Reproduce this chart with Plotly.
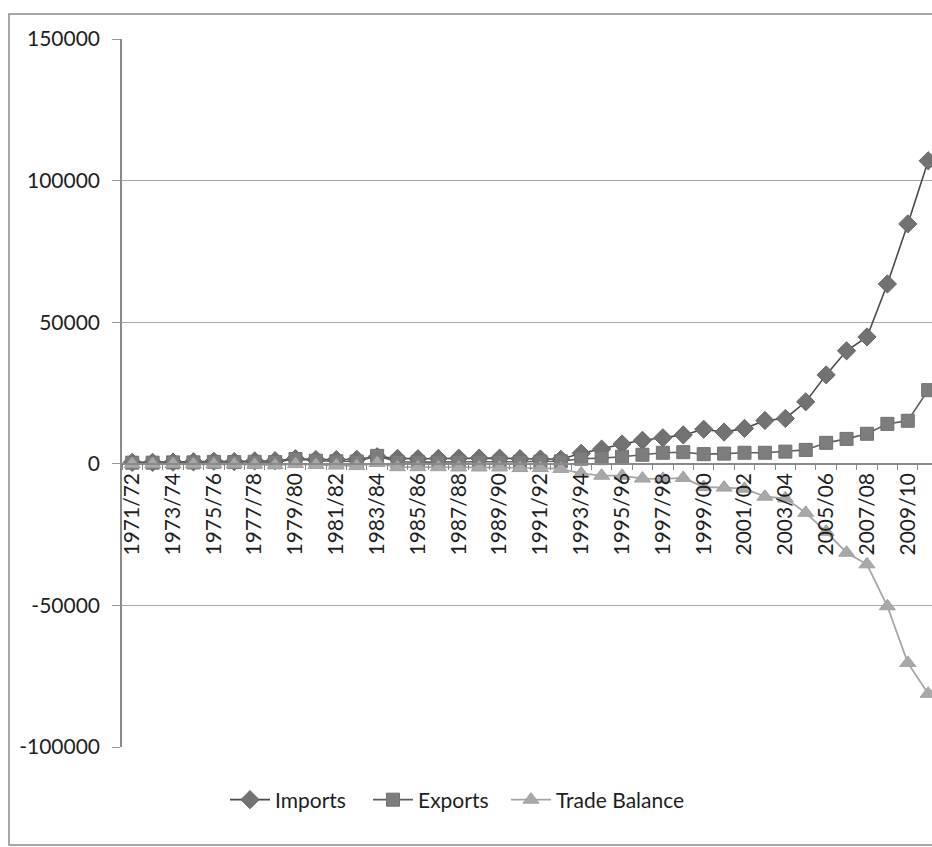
import plotly.graph_objects as go

years = [f"{y}/{str(y + 1)[-2:]}" for y in range(1971, 2011)]

imports = [500, 500, 600, 700, 900, 800, 1000, 1100, 1800, 1500,
           1500, 1600, 2500, 1900, 1800, 1900, 2000, 2000, 2000, 1800,
           1700, 1600, 3700, 5200, 7000, 8300, 9200, 10200, 12200, 11200,
           12500, 15300, 16000, 21900, 31400, 39900, 44800, 63500, 84700, 107000]

exports = [400, 400, 500, 500, 700, 600, 700, 600, 1700, 1100,
           900, 800, 2800, 700, 600, 700, 700, 700, 700, 700,
           800, 900, 1800, 2000, 2500, 3200, 3900, 4100, 3400, 3600,
           3900, 3900, 4300, 4900, 7400, 8800, 10600, 14100, 15200, 26000]

trade_balance = [-100, -100, -100, -200, -200, -200, -300, -500, -100, -400,
                 -600, -800, 300, -1200, -1200, -1200, -1300, -1300, -1300, -1500,
                 -1500, -1800, -3400, -4200, -4200, -5200, -5300, -5000, -8200, -8400,
                 -8800, -11600, -12200, -17300, -24000, -31400, -35500, -50300, -70300, -81200]

tick_text = [y if i % 2 == 0 else "" for i, y in enumerate(years)]
y_ticks = [-100000, -50000, 0, 50000, 100000, 150000]

FONT = "Lato"
W, H = 932, 847
L, T, B = 122, 39, 100
plot_w = W - L
plot_h = H - T - B
slot = 20.41
x_max = -0.5 + plot_w / slot

fig = go.Figure()
fig.add_trace(go.Scatter(
    x=years, y=imports, name="Imports", mode="lines+markers", legend="legend",
    line=dict(color="#4a4a4a", width=1.6),
    marker=dict(symbol="diamond", size=14, color="#727272", line=dict(color="#666666", width=1)),
    cliponaxis=False,
))
fig.add_trace(go.Scatter(
    x=years, y=exports, name="Exports", mode="lines+markers", legend="legend2",
    line=dict(color="#5e5e5e", width=1.6),
    marker=dict(symbol="square", size=13, color="#7d7d7d", line=dict(color="#707070", width=1)),
    cliponaxis=False,
))
fig.add_trace(go.Scatter(
    x=years, y=trade_balance, name="Trade Balance", mode="lines+markers", legend="legend3",
    line=dict(color="#a6a6a6", width=1.8),
    marker=dict(symbol="triangle-up", size=14, color="#a8a8a8", line=dict(color="#a0a0a0", width=1)),
    cliponaxis=False,
))

def px_x(p):
    return (p - L) / plot_w

def px_y(p):
    return (T + plot_h - p) / plot_h

def leg(xpix):
    return dict(
        orientation="h", x=px_x(xpix), xanchor="left", y=px_y(800), yanchor="middle",
        font=dict(family=FONT, size=21, color="#1e1e1e"),
        itemwidth=40, bgcolor="rgba(0,0,0,0)",
    )

fig.update_layout(
    width=W, height=H,
    margin=dict(l=L, r=0, t=T, b=B, pad=0),
    paper_bgcolor="white", plot_bgcolor="white",
    font=dict(family=FONT, size=21, color="#1e1e1e"),
    showlegend=True,
    legend=leg(225), legend2=leg(368), legend3=leg(506),
    xaxis=dict(
        type="category", range=[-0.5, x_max],
        tickmode="array", tickvals=years, ticktext=tick_text,
        tickangle=-90, tickson="boundaries",
        ticks="outside", ticklen=5, tickcolor="#888888",
        showline=True, linecolor="#8a8a8a", linewidth=1.5,
        showgrid=False, anchor="free", position=0.4,
        tickfont=dict(family=FONT, size=21, color="#1e1e1e"),
    ),
    yaxis=dict(
        range=[-100000, 150000], tickvals=y_ticks,
        ticktext=[str(v) for v in y_ticks],
        ticks="outside", ticklen=8, tickcolor="#999999",
        showline=True, linecolor="#8a8a8a", linewidth=1.5,
        showgrid=True, gridcolor="#a8a8a8", gridwidth=1,
        zeroline=False, ticklabelstandoff=8,
        tickfont=dict(family=FONT, size=21, color="#1e1e1e"),
    ),
    shapes=[dict(
        type="rect", xref="paper", yref="paper",
        x0=px_x(9), x1=px_x(960), y0=px_y(845), y1=px_y(14),
        line=dict(color="#8a8a8a", width=1.5), fillcolor="rgba(0,0,0,0)", layer="below",
    )],
)

fig.write_html("out.html")
